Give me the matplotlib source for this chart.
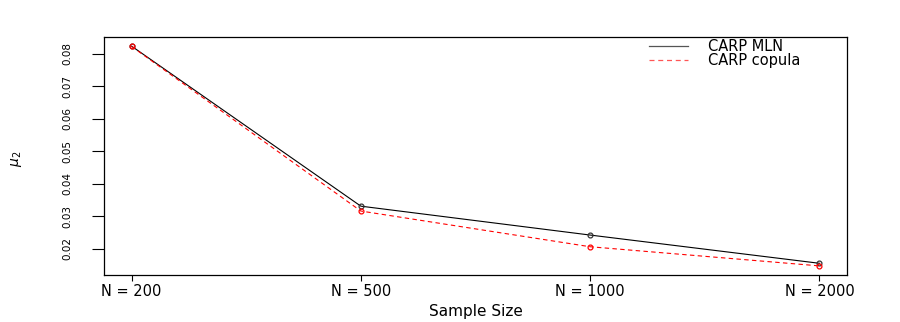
import matplotlib
matplotlib.use("Agg")
import matplotlib.pyplot as plt
from matplotlib.lines import Line2D

# Data
sizes = ["N = 200", "N = 500", "N = 1000", "N = 2000"]
carp_mln = [0.0824, 0.0331, 0.0242, 0.0155]
carp_copula = [0.0823, 0.0316, 0.0206, 0.0147]
yticks = [0.02, 0.03, 0.04, 0.05, 0.06, 0.07, 0.08]

plt.rcParams['font.family'] = ['DejaVu Sans']

fig = plt.figure(figsize=(9, 3.22), dpi=100)
ax = fig.add_axes([0.1156, 0.146, 0.8255, 0.739])

x = list(range(1, len(sizes) + 1))
ax.plot(x, carp_mln, color='black', lw=0.8, marker='o', ms=3.5,
        mfc='none', mec='#333333', mew=0.9)
ax.plot(x, carp_copula, color='red', lw=0.8, ls=(0, (4, 3)), marker='o', ms=3.5,
        mfc='none', mec='red', mew=0.9)

ax.set_xlim(0.88, 4.12)
ax.set_ylim(0.0119, 0.0852)
ax.set_xticks(x)
ax.set_xticklabels(sizes, fontsize=10.5)
ax.set_yticks(yticks)
ax.set_yticklabels([f"{v:.2f}" for v in yticks], fontsize=7.5, rotation=90, va='center')
ax.tick_params(axis='x', direction='out', length=4.3, width=0.8, pad=2.5)
ax.tick_params(axis='y', direction='out', length=8.6, width=0.8, pad=14)
for s in ax.spines.values():
    s.set_linewidth(0.9)

ax.set_xlabel("Sample Size", fontsize=11, labelpad=3)
ax.set_ylabel(r"$\mu_2$", fontsize=10)
ax.yaxis.set_label_coords((24 - 104) / 743, 0.49)

handles = [Line2D([], [], color='#555555', lw=0.9),
           Line2D([], [], color='#ff5555', lw=0.9, ls=(0, (4, 3)))]
fs = 10.5
fs_px = fs * 100 / 72
ax.legend(handles, ['CARP MLN', 'CARP copula'], loc='upper left',
          bbox_to_anchor=(649 / 900, 1 - 39 / 322), bbox_transform=fig.transFigure,
          frameon=False, fontsize=fs, borderpad=0, borderaxespad=0,
          handlelength=39 / fs_px, handletextpad=20 / fs_px, labelspacing=-0.05)

fig.savefig("out.png", dpi=100)
